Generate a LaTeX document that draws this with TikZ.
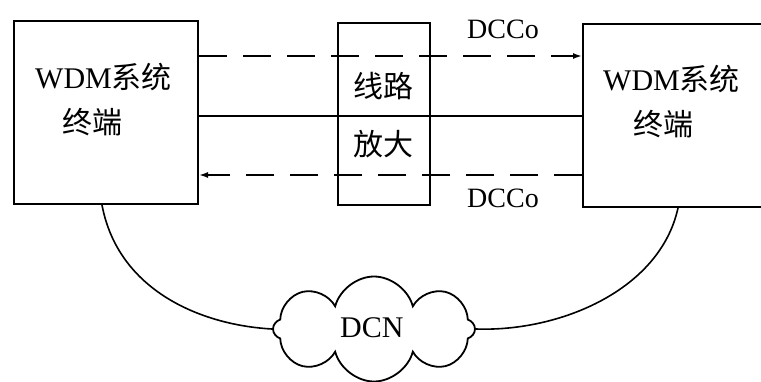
\documentclass[tikz,border=0pt]{standalone}
\usepackage{fontspec}
\setmainfont{Liberation Serif}
\newfontfamily\cjk{Noto Sans CJK SC}
\usetikzlibrary{shapes.symbols,arrows.meta}
\begin{document}
\begin{tikzpicture}[x=1pt,y=-1pt,
  box/.style={draw,line width=2pt,inner sep=0pt},
  lbl/.style={inner sep=0pt,anchor=base west,font=\fontsize{30}{36}\selectfont},
  small/.style={inner sep=0pt,anchor=base west,font=\fontsize{28}{34}\selectfont},
  link/.style={line width=1.6pt},
  dsh/.style={line width=1.6pt,dash pattern=on 28pt off 16pt,-{Latex[length=9pt,width=6pt]}}]
\useasboundingbox (0,0) rectangle (761,381);
\node[box,minimum width=184pt,minimum height=183pt] (L) at (106,112.5) {};
\node[box,minimum width=92pt,minimum height=182pt] (M) at (384,114) {};
\node[box,minimum width=182pt,minimum height=183pt] (R) at (674,115.5) {};
\node[cloud,draw,line width=1.8pt,cloud puffs=8,aspect=1.92,minimum width=202pt,minimum height=105pt,inner sep=0pt] (C) at (374,329) {};
% texts
\node[lbl] (L1) at (35,88) {WDM{\cjk 系统}};
\node[lbl] (L2) at (62,133) {\cjk 终端};
\node[lbl] (R1) at (603,90) {WDM{\cjk 系统}};
\node[lbl] (R2) at (633,135) {\cjk 终端};
\node[lbl] (M1) at (353,97) {\cjk 线路};
\node[lbl] (M2) at (353,155) {\cjk 放大};
\node[small] (D1) at (467,38) {DCCo};
\node[small] (D2) at (467,207) {DCCo};
\node[lbl] (N) at (340,337) {DCN};
% connectors
\coordinate (ya) at (0,56);
\coordinate (yb) at (0,116);
\coordinate (yc) at (0,175);
\draw[dsh] (L.east |- ya) -- (R.west |- ya);
\draw[link] (L.east |- yb) -- (R.west |- yb);
\draw[dsh] (R.west |- yc) -- (L.east |- yc);
\draw[link] ([xshift=-4pt]L.south) .. controls (118,290) and (200,325) .. (C.west);
\draw[link] ([xshift=4pt]R.south) .. controls (660,290) and (560,332) .. (C.east);
\end{tikzpicture}
\end{document}
